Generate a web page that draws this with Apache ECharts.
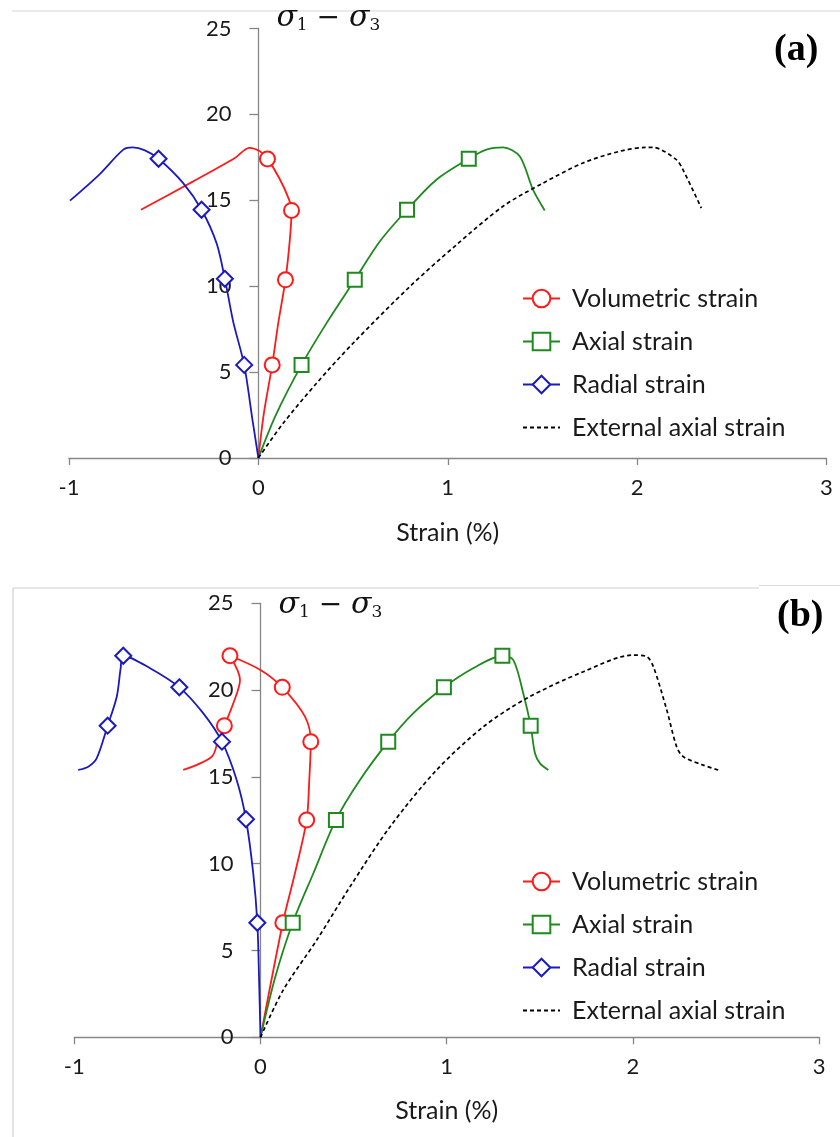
<!DOCTYPE html>
<html><head><meta charset="utf-8">
<script src="https://cdn.jsdelivr.net/npm/echarts@6/dist/echarts.min.js"></script>
<style>html,body{margin:0;padding:0;background:#fff}#c{width:840px;height:1137px}</style>
</head><body><div id="c"></div>
<script>
// ---- data: [strain %, deviator stress, marker flag] ----
const seriesNames = ['Volumetric strain', 'Axial strain', 'Radial strain', 'External axial strain'];
const xTicks = { min: -1, max: 3, interval: 1 };
const yTicks = { min: 0, max: 25, interval: 5 };
const panelLabels = ['(a)', '(b)'];

const volA = [[0,0],[0.029,2.6],[0.073,5.42,1],[0.105,7.85],[0.143,10.37,1],[0.166,12.7],[0.175,14.41,1],
  [0.16,15.1],[0.11,16.3],[0.048,17.41,1],[0.008,17.85],[-0.048,18.05],[-0.124,17.46],[-0.344,16.1],[-0.62,14.45]];
const axA = [[0,0],[0.092,2.5],[0.228,5.42,1],[0.36,7.85],[0.509,10.37,1],[0.641,12.6],[0.785,14.45,1],
  [0.94,16.2],[1.111,17.42,1],[1.204,17.95],[1.292,18.08],[1.38,17.56],[1.45,15.62],[1.512,14.41]];
const radA = [[0,0],[-0.031,2.21],[-0.075,5.42,1],[-0.133,7.94],[-0.177,10.43,1],[-0.221,12.51],[-0.3,14.45,1],
  [-0.397,16.0],[-0.527,17.42,1],[-0.599,17.91],[-0.664,18.08],[-0.713,17.95],[-0.84,16.5],[-0.995,14.98]];
const extA = [[0,0],[0.131,2.02],[0.307,4.35],[0.5,6.68],[0.8,9.98],[1.046,12.41],[1.292,14.65],[1.503,16.0],
  [1.714,17.17],[1.907,17.85],[2.049,18.08],[2.083,18.08],[2.207,17.37],[2.242,16.78],[2.339,14.55]];

const volB = [[0,0],[0.12,6.6,1],[0.185,9.45],[0.248,12.52,1],[0.262,14.82],[0.27,17.03,1],
  [0.239,18.47],[0.117,20.16,1],[0,21.16],[-0.164,21.98,1],[-0.11,20.58],[-0.146,19.24],[-0.194,17.95,1],
  [-0.227,17.13],[-0.262,16.16],[-0.415,15.4]];
const axB = [[0,0],[0.08,3.5],[0.173,6.6,1],[0.284,9.45],[0.405,12.52,1],[0.534,14.82],[0.686,17.03,1],
  [0.82,18.66],[0.985,20.16,1],[1.142,21.26],[1.299,21.98,1],[1.358,21.73],[1.411,19.82],[1.451,17.95,1],
  [1.474,16.36],[1.501,15.78],[1.546,15.4]];
const radB = [[0,0],[-0.008,3.5],[-0.017,6.6,1],[-0.039,9.45],[-0.078,12.56,1],[-0.128,14.82],[-0.207,17.03,1],
  [-0.307,18.66],[-0.436,20.16,1],[-0.593,21.26],[-0.737,21.98,1],[-0.751,21.26],[-0.772,19.62],[-0.821,17.95,1],
  [-0.88,16.07],[-0.925,15.59],[-0.979,15.4]];
const extB = [[0,0],[0.122,2.72],[0.302,5.6],[0.481,8.68],[0.696,12.13],[0.946,15.4],[1.197,17.89],[1.43,19.53],
  [1.734,21.06],[2.002,22.02],[2.074,21.93],[2.11,21.35],[2.182,18.85],[2.235,16.74],[2.271,16.16],[2.378,15.68],[2.468,15.36]];

const panels = [[volA, axA, radA, extA], [volB, axB, radB, extB]];

// ---- styles ----
const colors = ['#FF1A1A', '#1E8A1E', '#1A1ABF', '#000000'];
const symbols = ['emptyCircle', 'emptyRect', 'emptyDiamond', 'none'];
const symbolSizes = [15, 14, 16, 0];
const FONT = 'Lato';

function mk(arr) {
  return arr.map(p => p[2] ? { value: [p[0], p[1]] } : { value: [p[0], p[1]], symbol: 'none' });
}

const grids = [
  { left: 69, right: 13.5, top: 28.5, height: 429.5 },
  { left: 74.3, right: 20.9, top: 603.3, height: 434 }
];
// distance from the grid's left edge to the y axis (x = 0), used to pull y labels next to the axis
const yLabelShift = [258.5 - 69 - 27, 260.5 - 74.3 - 27];
const axisLineStyle = { color: '#868686', width: 1.3 };

const xAxes = grids.map((g, i) => ({
  type: 'value', gridIndex: i, min: xTicks.min, max: xTicks.max, interval: xTicks.interval,
  splitLine: { show: false },
  axisLine: { show: true, onZero: true, lineStyle: axisLineStyle },
  axisTick: { show: true, inside: false, length: 7, lineStyle: axisLineStyle },
  axisLabel: { fontFamily: FONT, fontSize: 22, color: '#1a1a1a', margin: 19 },
  name: 'Strain (%)', nameLocation: 'middle', nameGap: i === 0 ? 62 : 61,
  nameTextStyle: { fontFamily: FONT, fontSize: 25, color: '#1a1a1a' }
}));
const yAxes = grids.map((g, i) => ({
  type: 'value', gridIndex: i, min: yTicks.min, max: yTicks.max, interval: yTicks.interval,
  splitLine: { show: false },
  axisLine: { show: true, onZero: true, lineStyle: axisLineStyle },
  axisTick: { show: true, inside: false, length: 9, lineStyle: axisLineStyle },
  axisLabel: { fontFamily: FONT, fontSize: 22, color: '#1a1a1a', margin: -yLabelShift[i] },
  name: '{s|σ}{sub|1}{op| − }{s|σ}{sub|3}', nameLocation: 'end', nameGap: i === 0 ? 10 : -2,
  nameTextStyle: {
    align: 'left', verticalAlign: 'middle', padding: [0, 0, 0, 18],
    rich: {
      s: { fontFamily: 'DejaVu Serif', fontStyle: 'italic', fontSize: 30, lineHeight: 32, color: '#111' },
      sub: { fontFamily: 'DejaVu Serif', fontSize: 17, lineHeight: 15, verticalAlign: 'bottom', color: '#111' },
      op: { fontFamily: 'DejaVu Serif', fontSize: 28, lineHeight: 32, color: '#111' }
    }
  }
}));

const series = [];
panels.forEach((sets, pi) => {
  sets.forEach((arr, si) => {
    series.push({
      name: seriesNames[si], type: 'line', xAxisIndex: pi, yAxisIndex: pi,
      data: mk(arr), smooth: 0.3, smoothMonotone: null,
      symbol: symbols[si], symbolSize: symbolSizes[si], showSymbol: true,
      itemStyle: { color: colors[si], borderWidth: 1.6 },
      lineStyle: si === 3 ? { color: '#000', width: 1.7, type: [4, 3] } : { color: colors[si], width: 1.8 },
      emphasis: { disabled: true }, silent: true, animation: false, z: 2 + si
    });
  });
});

const legendData = seriesNames.map((n, i) => i === 3 ? { name: n, itemStyle: { opacity: 0 } } : { name: n });
const legends = [281, 864].map(t => ({
  data: legendData, orient: 'vertical', left: 517, top: t,
  itemWidth: 37, itemHeight: 22, itemGap: 18, selectedMode: false,
  textStyle: { fontFamily: FONT, fontSize: 25, color: '#1a1a1a', padding: [0, 0, 0, 7], lineHeight: 22 }
}));

const graphic = [
  { type: 'line', shape: { x1: 12, y1: 11, x2: 840, y2: 11 }, style: { stroke: '#d6d6d6', lineWidth: 1.2 }, silent: true },
  { type: 'line', shape: { x1: 13, y1: 588, x2: 759, y2: 588 }, style: { stroke: '#cfcfcf', lineWidth: 1.2 }, silent: true },
  { type: 'line', shape: { x1: 759, y1: 585.5, x2: 840, y2: 585.5 }, style: { stroke: '#dcdcdc', lineWidth: 1.2 }, silent: true },
  { type: 'line', shape: { x1: 13, y1: 588, x2: 13, y2: 1137 }, style: { stroke: '#cfcfcf', lineWidth: 1.2 }, silent: true },
  { type: 'text', left: 774, top: 31, style: { text: panelLabels[0], font: 'bold 38px "Liberation Serif"', fill: '#000' }, silent: true },
  { type: 'text', left: 777, top: 597, style: { text: panelLabels[1], font: 'bold 38px "Liberation Serif"', fill: '#000' }, silent: true }
];

const chart = echarts.init(document.getElementById('c'), null, { renderer: 'canvas' });
chart.setOption({
  animation: false, backgroundColor: '#fff',
  grid: grids, xAxis: xAxes, yAxis: yAxes, series, legend: legends, graphic
});
</script></body></html>
